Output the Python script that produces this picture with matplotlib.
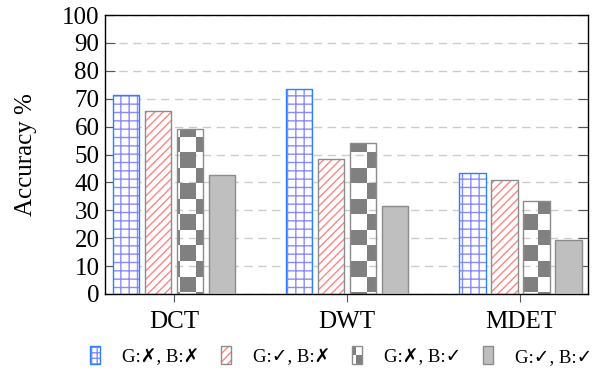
import numpy as np
import matplotlib
matplotlib.use("Agg")
import matplotlib.pyplot as plt
from matplotlib.patches import Rectangle, Patch
from matplotlib.legend_handler import HandlerBase

# ---- data ----
categories = ["DCT", "DWT", "MDET"]
series_labels = ["G:\u2717, B:\u2717", "G:\u2713, B:\u2717", "G:\u2717, B:\u2713", "G:\u2713, B:\u2713"]
vals_gx_bx = [71.5, 73.5, 43.5]
vals_gc_bx = [65.5, 48.5, 41.0]
vals_gx_bc = [59.0, 54.0, 33.5]
vals_gc_bc = [42.5, 31.5, 19.5]
yticks = list(range(0, 101, 10))

plt.rcParams['font.family'] = ['Liberation Serif', 'DejaVu Sans']
plt.rcParams['hatch.linewidth'] = 1.0

BLUE_F = '#2a80ff'
BLUE_H = '#8a8aff'
RED_H = '#ff8585'
FRAME = '#8c8c8c'
DARK = '#808080'
GRAY = '#bfbfbf'

fig = plt.figure(figsize=(6.0, 3.74), dpi=100)
ax = fig.add_axes([105/600, 1-294/374, (588-105)/600, (294-15)/374])

x = np.arange(len(categories))
step = 0.1847
width = 0.153
offs = [-1.5*step, -0.5*step, 0.5*step, 1.5*step]

# grid
ax.set_axisbelow(True)
ax.yaxis.grid(True, color='#cccccc', linestyle=(0, (6, 4)), linewidth=1.0)

# series 1: blue grid
ax.bar(x+offs[0], vals_gx_bx, width, facecolor='white', edgecolor=BLUE_H, hatch='++', linewidth=0, zorder=2)
ax.bar(x+offs[0], vals_gx_bx, width, fill=False, edgecolor=BLUE_F, linewidth=1.0, zorder=3)
# series 2: red diagonal
ax.bar(x+offs[1], vals_gc_bx, width, facecolor='white', edgecolor=RED_H, hatch='////', linewidth=0, zorder=2)
ax.bar(x+offs[1], vals_gc_bx, width, fill=False, edgecolor=FRAME, linewidth=1.0, zorder=3)
# series 3: checkerboard
bars3 = ax.bar(x+offs[2], vals_gx_bc, width, fill=False, edgecolor=FRAME, linewidth=1.0, zorder=3)
cw, ch = 0.08975, 5.573
xph, yph = 0.0349, 0.67
for b in bars3:
    x0 = b.get_x(); x1 = x0 + b.get_width(); h = b.get_height()
    cs = int(np.floor((x0-xph)/cw)); ce = int(np.ceil((x1-xph)/cw))
    rs = int(np.floor((0-yph)/ch)); re = int(np.ceil((h-yph)/ch))
    for c in range(cs, ce):
        for r in range(rs, re):
            if (c + r) % 2 != 0:
                continue
            cx0 = max(x0, xph + c*cw); cx1 = min(x1, xph + (c+1)*cw)
            cy0 = max(0, yph + r*ch); cy1 = min(h, yph + (r+1)*ch)
            if cx1 > cx0 and cy1 > cy0:
                ax.add_patch(Rectangle((cx0, cy0), cx1-cx0, cy1-cy0, facecolor=DARK,
                                       edgecolor='none', zorder=2))
# series 4: gray
ax.bar(x+offs[3], vals_gc_bc, width, facecolor=GRAY, edgecolor=FRAME, linewidth=1.0, zorder=3)

ax.set_xlim(-0.398, 2.39)
ax.set_ylim(0, 100)
ax.set_yticks(yticks)
ax.set_xticks(x)
ax.set_xticklabels(categories)
ax.tick_params(axis='y', direction='in', length=7.5, width=0.8, labelsize=18, pad=4, right=True,
               color='#555555', labelcolor='black')
ax.tick_params(axis='x', direction='out', length=6, width=0.8, labelsize=18, pad=6, color='#555555')
for s in ax.spines.values():
    s.set_linewidth(1.0)
ax.set_ylabel("Accuracy %", fontsize=18, labelpad=18)


class LayerHandler(HandlerBase):
    def __init__(self, kind):
        super().__init__()
        self.kind = kind

    def create_artists(self, legend, orig_handle, xdescent, ydescent, width, height, fontsize, trans):
        x0, y0 = -xdescent, -ydescent
        arts = []
        if self.kind == 0:
            arts.append(Rectangle((x0, y0), width, height, facecolor='white', edgecolor=BLUE_H, hatch='+++', lw=0))
            arts.append(Rectangle((x0, y0), width, height, fill=False, edgecolor=BLUE_F, lw=1.0))
        elif self.kind == 1:
            arts.append(Rectangle((x0, y0), width, height, facecolor='white', edgecolor=RED_H, hatch='////', lw=0))
            arts.append(Rectangle((x0, y0), width, height, fill=False, edgecolor=FRAME, lw=1.0))
        elif self.kind == 2:
            sx = 0.4 * width; sy = 0.47 * height
            arts.append(Rectangle((x0, y0 + height - sy), sx, sy, facecolor=DARK, edgecolor='none'))
            arts.append(Rectangle((x0 + sx, y0), width - sx, height - sy, facecolor=DARK, edgecolor='none'))
            arts.append(Rectangle((x0, y0), width, height, fill=False, edgecolor=FRAME, lw=1.0))
        else:
            arts.append(Rectangle((x0, y0), width, height, facecolor=GRAY, edgecolor=FRAME, lw=1.0))
        for a in arts:
            a.set_transform(trans)
        return arts


handles = [Patch(label=l) for l in series_labels]
fig.legend(handles=handles, labels=series_labels, ncol=4, loc='center',
           bbox_to_anchor=(0.568, 1-356/374), frameon=False, fontsize=13.5,
           handlelength=0.56, handleheight=1.1, handletextpad=1.15, columnspacing=1.15,
           borderpad=0,
           handler_map={handles[i]: LayerHandler(i) for i in range(4)})

fig.savefig("out.png", dpi=100)
